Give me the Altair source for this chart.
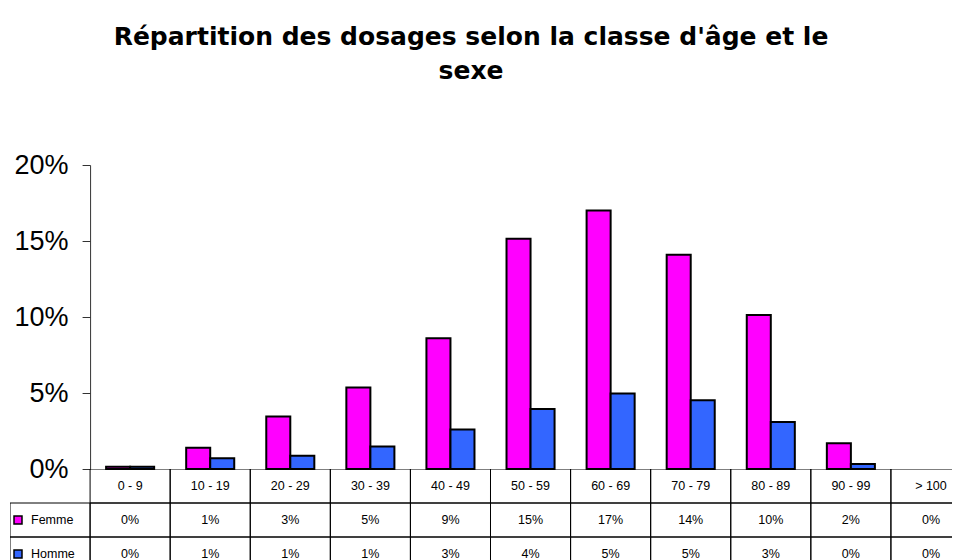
import altair as alt
import pandas as pd

# ---- data ----
categories = ["0 - 9", "10 - 19", "20 - 29", "30 - 39", "40 - 49", "50 - 59",
              "60 - 69", "70 - 79", "80 - 89", "90 - 99", "> 100"]
femme = [0.0015, 0.014, 0.0345, 0.0537, 0.086, 0.1515, 0.170, 0.141, 0.1013, 0.0169, 0.0]
homme = [0.0015, 0.007, 0.0087, 0.0148, 0.026, 0.0395, 0.0497, 0.0452, 0.0309, 0.0033, 0.0]
series = ["Femme", "Homme"]
colors = ["#FF00FF", "#3366FF"]
y_ticks = [0, 0.05, 0.10, 0.15, 0.20]
title_lines = ["Répartition des dosages selon la classe d'âge et le", "sexe"]

LEG = " "  # first (legend) column of the data table
columns = [LEG] + categories
rows_order = ["hdr"] + series

FULL = 961          # pixel span of the 12 table columns (last one runs off the page)
W = 942             # visible plot width
STEP = FULL / len(columns)
FONT = "Liberation Sans"

records = []
for c, f, h in zip(categories, femme, homme):
    records.append({"cat": c, "sexe": "Femme", "val": f})
    records.append({"cat": c, "sexe": "Homme", "val": h})
df = pd.DataFrame(records)

# ---- bar chart ----
bars = alt.Chart(df).transform_filter("datum.val > 0").mark_bar(
    stroke="black", strokeWidth=2
).encode(
    x=alt.X("cat:N", scale=alt.Scale(domain=columns, range=[0, FULL], paddingInner=0.4, paddingOuter=0.2),
            axis=None),
    xOffset=alt.XOffset("sexe:N", scale=alt.Scale(domain=series, paddingInner=0, paddingOuter=0)),
    y=alt.Y("val:Q", scale=alt.Scale(domain=[0, 0.2], nice=False),
            axis=alt.Axis(values=y_ticks, format=".0%", title=None, offset=-STEP, grid=False,
                          tickSize=8, labelFontSize=27, labelPadding=14, labelFont=FONT,
                          labelColor="black", domainColor="#333333", tickColor="#333333")),
    color=alt.Color("sexe:N", scale=alt.Scale(domain=series, range=colors), legend=None),
).properties(width=W, height=304)

# ---- data table ----
cells = [{"col": c, "row": "hdr"} for c in categories]
for s in series:
    for c in columns:
        cells.append({"col": c, "row": s})
cells_df = pd.DataFrame(cells)
hdr_df = pd.DataFrame({"col": categories, "row": ["hdr"] * len(categories)})
val_df = df.rename(columns={"cat": "col", "sexe": "row"})
leg_df = pd.DataFrame({"col": [LEG] * len(series), "row": series})

xs = alt.Scale(domain=columns, range=[0, FULL], paddingInner=0, paddingOuter=0)
ys = alt.Scale(domain=rows_order, paddingInner=0, paddingOuter=0)

grid = alt.Chart(cells_df).mark_rect(fillOpacity=0, stroke="black", strokeWidth=1, clip=True).encode(
    x=alt.X("col:N", scale=xs, axis=None),
    y=alt.Y("row:N", scale=ys, axis=None),
)
hdr_text = alt.Chart(hdr_df).mark_text(font=FONT, fontSize=12.5, color="black").encode(
    x=alt.X("col:N", scale=xs, axis=None),
    y=alt.Y("row:N", scale=ys, axis=None),
    text="col:N",
)
val_text = alt.Chart(val_df).mark_text(font=FONT, fontSize=12.5, color="black").encode(
    x=alt.X("col:N", scale=xs, axis=None),
    y=alt.Y("row:N", scale=ys, axis=None),
    text=alt.Text("val:Q", format=".0%"),
)
leg_sq = alt.Chart(leg_df).mark_square(size=64, xOffset=8, stroke="black", strokeWidth=1.5, opacity=1).encode(
    x=alt.X("col:N", scale=xs, axis=None, bandPosition=0),
    y=alt.Y("row:N", scale=ys, axis=None),
    fill=alt.Fill("row:N", scale=alt.Scale(domain=series, range=colors), legend=None),
)
leg_text = alt.Chart(leg_df).mark_text(font=FONT, fontSize=12.5, color="black", align="left", dx=21).encode(
    x=alt.X("col:N", scale=xs, axis=None, bandPosition=0),
    y=alt.Y("row:N", scale=ys, axis=None),
    text="row:N",
)
table = alt.layer(grid, hdr_text, val_text, leg_sq, leg_text).properties(width=W, height=102)

chart = alt.vconcat(bars, table, spacing=0, bounds="flush").properties(
    title=alt.Title(title_lines, font="DejaVu Sans", fontSize=25, fontWeight="bold",
                    lineHeight=34, anchor="middle", dx=-10, offset=67, color="black"),
    padding={"left": 2, "top": 17, "right": 0, "bottom": 0},
    background="white",
).configure_view(stroke=None)

chart.save("out.html", embed_options={"renderer": "svg", "actions": False})
